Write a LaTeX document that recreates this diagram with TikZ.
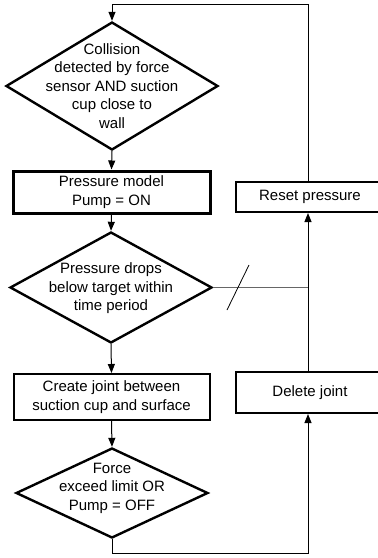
\documentclass[tikz,border=0pt]{standalone}
\usepackage{fontspec}
\setmainfont{Liberation Sans}
\usetikzlibrary{shapes.geometric,arrows.meta}
\tikzset{
	decision/.style={diamond,draw,line width=2.4pt,inner sep=0pt},
	process/.style={rectangle,draw,line width=2pt,inner sep=0pt},
	txt/.style={align=center,font=\fontsize{15}{18.5}\selectfont},
	flow/.style={-{Triangle[length=9pt,width=7pt]},line width=1pt}
}
\begin{document}
\begin{tikzpicture}[x=1pt,y=-1pt]
				\useasboundingbox (0,0) rectangle (378,558);
				\node[decision,minimum width=212pt,minimum height=128pt,label={[txt]center:Collision\\detected by force\\sensor AND suction\\cup close to\\wall}] (collide) at (112,86) {};
				\node[process,txt,line width=3pt,minimum width=197pt,minimum height=42pt] (pump) at (111.5,192) {Pressure model\\Pump = ON};
				\node[decision,minimum width=202pt,minimum height=111pt,label={[txt,yshift=-1pt]center:Pressure drops\\below target within\\time period}] (drop) at (111,287.5) {};
				\node[process,txt,minimum width=196pt,minimum height=46pt] (joint) at (111.5,397) {Create joint between\\suction cup and surface};
				\node[decision,minimum width=192pt,minimum height=90pt,label={[txt,yshift=5pt]center:Force\\exceed limit OR\\Pump = OFF}] (limit) at (112,493) {};
				\node[process,txt,minimum width=148pt,minimum height=30pt] (reset) at (310,197) {Reset pressure};
				\node[process,txt,minimum width=148pt,minimum height=41pt] (delete) at (310,392.5) {Delete joint};
				\coordinate (loop) at (308,4);
				\coordinate (base) at (308,553);
				\draw[flow] (collide.south) -- (pump.north);
				\draw[flow] (pump.south) -- (drop.north);
				\draw[flow] (drop.south) -- (joint.north);
				\draw[flow] (joint.south) -- (limit.north);
				\draw[flow] (limit.south) |- (base) -- (base |- delete.south);
				\draw[flow] (loop |- delete.north) -- (loop |- reset.south);
				\draw[flow] (loop |- reset.north) -- (loop) -| (collide.north);
				\draw[line width=1.3pt,black!60] (drop.east) -- (drop.east -| loop);
				\draw[line width=0.8pt] (227,310) -- (249,265);
\end{tikzpicture}
\end{document}
